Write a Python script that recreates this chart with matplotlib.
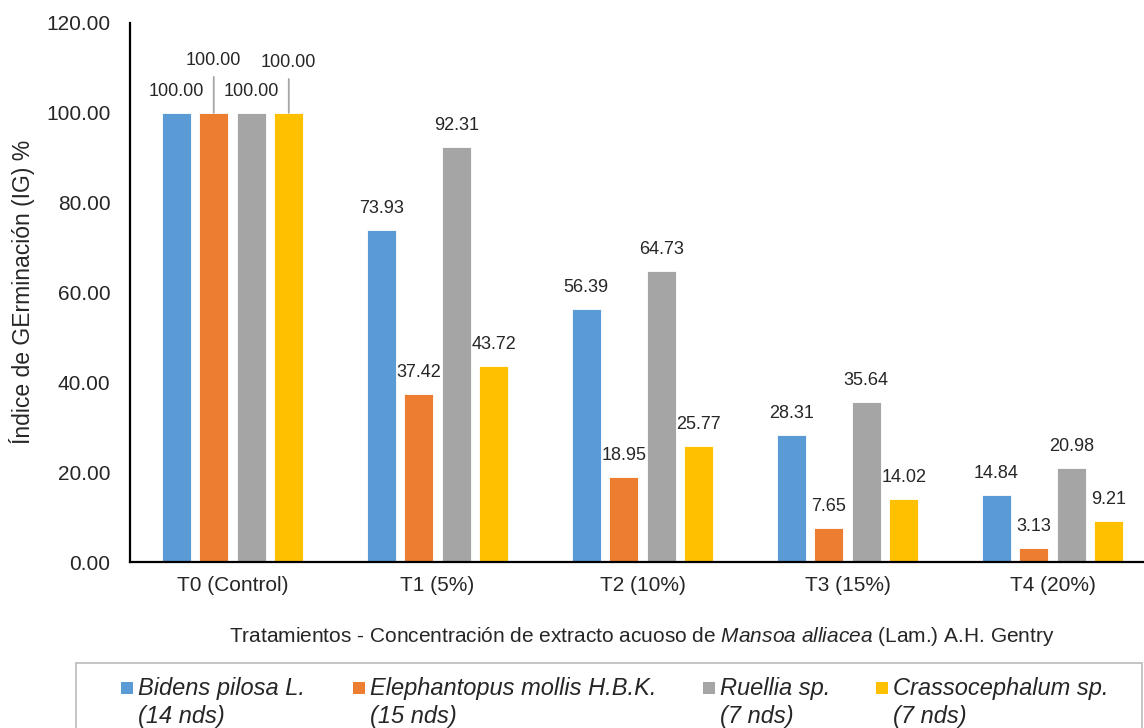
import matplotlib
matplotlib.use("Agg")
import matplotlib.pyplot as plt
import matplotlib.patches as patches
import numpy as np

plt.rcParams['font.family'] = ['Liberation Sans', 'DejaVu Sans']
plt.rcParams['mathtext.fontset'] = 'custom'
plt.rcParams['mathtext.rm'] = 'Liberation Sans'
plt.rcParams['mathtext.it'] = 'Liberation Sans:italic'

tratamientos = ["T0 (Control)", "T1 (5%)", "T2 (10%)", "T3 (15%)", "T4 (20%)"]
especies = ["Bidens pilosa L.", "Elephantopus mollis H.B.K.", "Ruellia sp.", "Crassocephalum sp."]
nodos = ["(14 nds)", "(15 nds)", "(7 nds)", "(7 nds)"]
bidens = [100.00, 73.93, 56.39, 28.31, 14.84]
elephantopus = [100.00, 37.42, 18.95, 7.65, 3.13]
ruellia = [100.00, 92.31, 64.73, 35.64, 20.98]
crassocephalum = [100.00, 43.72, 25.77, 14.02, 9.21]
colores = ["#5B9BD5", "#ED7D31", "#A5A5A5", "#FFC000"]
yticks = [0, 20, 40, 60, 80, 100, 120]

series = [bidens, elephantopus, ruellia, crassocephalum]
W, H = 1144, 728

fig = plt.figure(figsize=(W / 100, H / 100), dpi=100)
ax = fig.add_axes([130 / W, 1 - 562 / H, 1025 / W, 539 / H])

x = np.arange(len(tratamientos))
paso = 0.183
ancho = 0.142
for i, (vals, col) in enumerate(zip(series, colores)):
    pos = x + (i - 1.5) * paso
    ax.bar(pos, vals, ancho, color=col, edgecolor="white", linewidth=0.6,
           label=f"{especies[i]} {nodos[i]}")
    for j, (xi, v) in enumerate(zip(pos, vals)):
        # en el control las etiquetas de la 2a y 4a serie suben con linea guia
        if j == 0 and i in (1, 3):
            dy = 38 if i == 1 else 36.5
            ax.annotate(f"{v:.2f}", (xi, v), xytext=(0, dy), textcoords="offset points",
                        ha="center", va="center", fontsize=13, color="#262626",
                        arrowprops=dict(arrowstyle="-", color="#A5A5A5", lw=1.3,
                                        shrinkA=4, shrinkB=0))
        else:
            ax.annotate(f"{v:.2f}", (xi, v), xytext=(0, 15.5), textcoords="offset points",
                        ha="center", va="center", fontsize=13, color="#262626")

ax.set_xlim(-0.5, 4.5)
ax.set_ylim(0, 120)
ax.set_yticks(yticks)
ax.set_yticklabels([f"{t:.2f}" for t in yticks], fontsize=15, color="#262626")
ax.set_xticks(x)
ax.set_xticklabels(tratamientos, fontsize=15, color="#262626")
ax.tick_params(axis="x", length=0, pad=10)
ax.tick_params(axis="y", length=0, pad=14)
for s in ["top", "right"]:
    ax.spines[s].set_visible(False)
ax.spines["left"].set_linewidth(1.6)
ax.spines["bottom"].set_linewidth(1.6)

fig.text(22 / W, 1 - 292 / H, "Índice de GErminación (IG) %", rotation=90,
         ha="center", va="center", fontsize=16.5, color="#262626")

fig.text(642 / W, 1 - 636 / H,
         r"Tratamientos - Concentración de extracto acuoso de $\mathit{Mansoa\ alliacea}$ (Lam.) A.H. Gentry",
         ha="center", va="center", fontsize=15, color="#262626")

# leyenda dibujada a mano: cuadro de color alineado con la primera linea
marco = patches.Rectangle((76 / W, -0.05), 1066 / W, 1 - 663 / H + 0.05,
                          transform=fig.transFigure, fill=False, edgecolor="#BFBFBF",
                          linewidth=1.3)
fig.add_artist(marco)
x_cuadro = [121, 353, 703, 876]
for xc, col, nombre, nd in zip(x_cuadro, colores, especies, nodos):
    fig.add_artist(patches.Rectangle((xc / W, 1 - 694 / H), 12 / W, 12 / H,
                                     transform=fig.transFigure, facecolor=col,
                                     edgecolor="none"))
    fig.text((xc + 17) / W, 1 - 688 / H, nombre, ha="left", va="center",
             fontsize=17, fontstyle="italic", color="#262626")
    fig.text((xc + 17) / W, 1 - 717 / H, nd, ha="left", va="center",
             fontsize=17, fontstyle="italic", color="#262626")

fig.savefig("out.png", dpi=100)
